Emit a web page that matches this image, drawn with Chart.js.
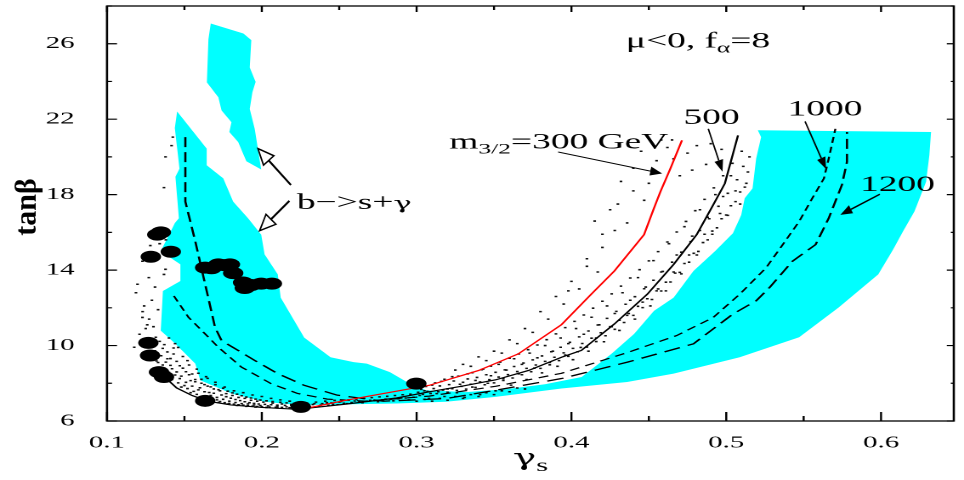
<!DOCTYPE html>
<html>
<head>
<meta charset="utf-8">
<script src="https://cdn.jsdelivr.net/npm/chart.js@4.4.1/dist/chart.umd.min.js"></script>
<style>
html,body{margin:0;padding:0;background:#fff;overflow:hidden;}
#c{display:block;width:964px;height:480px;}
</style>
</head>
<body>
<canvas id="c" width="567" height="480" style="width:964px;height:480px;"></canvas>
<script>
// ---------------- data (gamma_s , tan beta) ----------------
const xMajorTicks = [0.1, 0.2, 0.3, 0.4, 0.5, 0.6];
const yMajorTicks = [6, 10, 14, 18, 22, 26];

// b -> s gamma allowed region (cyan), main band
const cyanMainBand = [
 [0.1453,22.41],[0.1644,20.44],[0.1644,19.56],[0.1751,18.86],[0.1815,17.63],[0.1911,16.75],[0.1996,15.88],
 [0.2018,14.83],[0.2103,13.77],[0.2122,12.54],[0.2274,10.42],[0.2444,9.38],[0.2593,9.12],[0.2678,9.04],
 [0.2827,8.59],[0.2955,7.98],[0.3062,7.63],[0.3318,7.53],[0.3574,7.68],[0.3829,7.95],[0.4066,8.33],
 [0.4258,9.56],[0.4405,10.62],[0.4533,11.84],[0.4660,12.54],[0.4788,13.95],[0.4927,15.0],[0.5043,15.95],
 [0.5097,16.93],[0.5119,17.81],[0.5170,18.33],[0.5193,19.91],[0.5225,21.05],[0.5204,21.41],[0.6323,21.32],
 [0.6312,20.09],[0.6291,18.68],[0.6216,17.11],[0.6142,16.05],[0.6078,15.09],[0.5982,13.77],[0.5726,12.02],
 [0.5471,10.44],[0.5087,9.38],[0.4660,8.51],[0.4360,8.07],[0.3936,7.72],[0.3510,7.28],[0.3190,7.02],
 [0.2870,6.93],[0.2231,6.84],[0.2018,7.02],[0.1804,7.46],[0.1602,8.16],[0.1570,9.04],[0.1442,10.09],
 [0.1347,10.79],[0.1361,12.89],[0.1474,13.42],[0.1474,14.30],[0.1347,15.0],[0.1438,16.49],[0.1464,16.75],
 [0.1442,18.95],[0.1468,19.38],[0.1438,21.53]
];
// b -> s gamma allowed region (cyan), upper island
const cyanUpperBand = [
 [0.167,27.07],[0.1881,26.54],[0.1932,26.19],[0.1922,24.74],[0.196,23.98],[0.1939,23.42],[0.1922,22.54],
 [0.1954,21.49],[0.1996,19.33],[0.190,19.77],[0.1847,20.79],[0.179,21.32],[0.1804,21.84],[0.174,22.46],
 [0.1719,23.16],[0.1645,23.95],[0.1655,26.23]
];
// scan points (small dots)
const scanPoints = [
 [0.1425,21.05],[0.1417,20.6],[0.1378,20.0],[0.1368,18.37],
 [0.1229,14.47],[0.1197,13.25],[0.1187,12.8],[0.1368,13.77],[0.1378,14.04],[0.1229,11.49],[0.1272,11.4],
 [0.1176,9.91],[0.1315,10.44],[0.124,12.1],[0.129,12.4],[0.133,11.9],[0.121,10.6],[0.128,15.3],[0.134,15.4],[0.138,15.6],
 [0.126,11.1],[0.123,11.8],[0.127,13.6],[0.131,13.1],[0.125,10.9],[0.13,11.0],
 [0.136,9.85],[0.139,9.3],[0.141,8.95],[0.143,9.55],[0.145,8.6],[0.147,8.25],[0.149,8.8],[0.151,8.05],[0.153,8.45],[0.155,7.85],
 [0.157,8.2],[0.159,7.65],[0.161,8.0],[0.163,7.55],[0.165,7.85],[0.167,7.35],[0.169,7.7],[0.171,7.25],[0.173,7.6],[0.175,7.15],
 [0.177,7.45],[0.179,7.05],[0.181,7.35],[0.183,6.98],[0.185,7.25],[0.187,6.92],[0.189,7.2],[0.191,6.9],[0.193,7.1],[0.195,6.85],
 [0.197,7.05],[0.199,6.82],[0.201,7.0],[0.204,6.8],[0.207,6.95],[0.21,6.78],[0.213,6.9],[0.216,6.75],[0.219,6.88],[0.222,6.76],
 [0.226,6.86],[0.23,6.8],[0.234,6.92],[0.238,6.84],[0.242,6.97],[0.246,6.88],[0.25,7.0],[0.255,6.92],[0.26,7.06],[0.265,6.97],
 [0.27,7.1],[0.275,7.02],[0.28,7.16],[0.285,7.07],[0.29,7.22],[0.295,7.12],
 [0.146,9.9],[0.152,9.2],[0.158,8.75],[0.164,8.35],[0.17,8.05],[0.176,7.8],[0.182,7.6],[0.188,7.5],[0.194,7.38],[0.2,7.3],
 [0.206,7.2],[0.212,7.12],[0.218,7.05],[0.224,7.0],[0.14,10.4],[0.144,10.1],[0.133,9.1],[0.137,8.7],[0.142,8.2],[0.148,7.8],
 [0.154,7.5],[0.16,7.25],[0.166,7.1],[0.172,6.98],[0.178,6.9],[0.184,6.82],[0.19,6.78],[0.196,6.74],[0.203,6.72],[0.21,6.7],
 [0.131,9.72],[0.132,9.18],[0.133,8.78],[0.134,10.22],[0.135,9.46],[0.136,8.97],[0.137,10.05],[0.138,9.12],[0.139,9.66],[0.140,8.58],
 [0.141,9.31],[0.142,8.77],[0.143,9.87],[0.144,8.44],[0.145,9.16],[0.146,8.02],[0.147,8.93],[0.148,8.38],[0.149,9.42],[0.150,7.88],
 [0.151,8.61],[0.152,7.72],[0.153,8.97],[0.154,8.14],[0.155,8.49],[0.156,7.57],[0.157,8.08],[0.158,7.41],[0.159,8.53],[0.160,7.76],
 [0.161,8.21],[0.162,7.32],[0.163,7.93],[0.164,7.16],[0.165,8.26],[0.166,7.51],[0.167,7.81],[0.168,7.06],[0.169,7.47],[0.170,7.92],
 [0.171,7.12],[0.172,7.66],[0.173,7.03],[0.174,7.38],[0.175,7.74],[0.176,6.97],[0.177,7.29],[0.178,7.58],[0.179,6.93],[0.180,7.21],
 [0.181,7.49],[0.182,6.89],[0.183,7.14],[0.184,7.42],[0.185,6.86],[0.186,7.08],[0.187,7.34],[0.188,6.84],[0.189,7.02],[0.190,7.27],
 [0.191,6.81],[0.192,6.97],[0.193,7.22],[0.194,6.79],[0.195,6.93],[0.196,7.16],[0.197,6.77],[0.198,6.9],[0.199,7.11],[0.200,6.76],
 [0.202,6.88],[0.203,7.07],[0.205,6.74],[0.206,6.86],[0.207,7.03],[0.209,6.73],[0.210,6.84],[0.212,6.99],[0.213,6.72],[0.215,6.83],
 [0.216,6.96],[0.218,6.71],[0.219,6.82],[0.221,6.94],[0.223,6.72],[0.225,6.9],[0.227,6.78],[0.229,6.95],[0.231,6.74],[0.233,6.87],
 [0.235,7.0],[0.237,6.79],[0.239,6.92],[0.241,7.05],[0.243,6.83],[0.245,6.96],[0.247,7.09],[0.249,6.86],[0.251,7.03],[0.253,6.94],
 [0.256,7.12],[0.258,6.98],[0.261,7.16],[0.263,7.02],[0.266,7.2],[0.268,7.05],[0.271,7.24],[0.273,7.08],[0.276,7.28],[0.278,7.12],
 [0.281,7.31],[0.283,7.15],[0.286,7.35],[0.288,7.18],[0.291,7.39],[0.293,7.22],[0.296,7.42],[0.298,7.26],
 [0.302,7.35],[0.305,7.6],[0.308,7.2],[0.31,7.9],[0.313,7.45],[0.316,8.1],[0.318,7.3],[0.32,7.7],[0.323,8.35],[0.326,7.5],
 [0.328,7.95],[0.331,7.25],[0.333,8.5],[0.336,7.8],[0.338,8.15],[0.341,7.4],[0.343,8.75],[0.346,8.0],[0.348,8.4],[0.351,7.6],
 [0.353,9.0],[0.356,8.25],[0.358,8.7],[0.361,7.9],[0.363,9.3],[0.366,8.5],[0.368,9.0],[0.371,8.2],[0.373,9.6],[0.376,8.8],
 [0.378,9.35],[0.381,8.55],[0.383,10.0],[0.386,9.1],[0.388,9.7],[0.391,8.9],[0.393,10.4],[0.396,9.5],[0.398,10.1],[0.401,9.25],
 [0.403,10.9],[0.406,9.9],[0.408,10.6],[0.411,9.7],[0.413,11.5],[0.416,10.4],[0.418,11.1],[0.421,10.2],[0.423,12.1],[0.426,11.0],
 [0.428,11.7],[0.431,10.8],[0.433,12.8],[0.436,11.6],[0.438,12.4],[0.441,11.4],[0.443,13.6],[0.446,12.3],[0.448,13.1],[0.451,12.1],
 [0.453,14.5],[0.456,13.0],[0.458,13.9],[0.461,12.9],[0.463,15.4],[0.466,13.9],[0.468,14.8],[0.471,13.8],[0.473,16.3],[0.476,14.8],
 [0.478,15.8],[0.481,14.8],[0.483,17.2],[0.486,15.9],[0.488,16.8],[0.491,15.9],[0.493,18.0],[0.496,17.0],[0.498,17.9],[0.501,16.9],
 [0.503,19.0],[0.506,18.2],[0.509,17.5],[0.511,19.5],[0.513,18.6],
 [0.405,13.0],[0.41,14.2],[0.415,16.6],[0.42,15.2],[0.425,17.2],[0.432,18.7],[0.436,16.5],[0.44,19.4],[0.445,20.3],[0.45,18.6],
 [0.455,19.8],[0.462,20.5],[0.47,19.0],[0.475,20.2],[0.481,20.6],[0.487,19.6],[0.395,12.2],[0.385,11.4],[0.375,10.7],[0.365,10.1],
 [0.355,9.6],[0.345,9.2],[0.335,8.9],[0.325,8.7],
 [0.30,7.05],[0.305,7.15],[0.31,7.05],[0.315,7.2],[0.32,7.1],[0.325,7.3],[0.33,7.2],[0.335,7.4],[0.34,7.3],[0.345,7.5],
 [0.35,7.4],[0.355,7.6],[0.36,7.55],[0.365,7.75],[0.37,7.7],
 [0.301,7.52],[0.303,7.68],[0.304,7.41],[0.306,7.83],[0.307,7.57],[0.309,7.46],[0.311,7.72],[0.312,8.02],[0.314,7.55],[0.315,7.86],
 [0.317,7.64],[0.318,8.21],[0.320,7.52],[0.321,7.93],[0.323,7.71],[0.324,8.12],[0.326,7.62],[0.327,8.38],[0.329,7.84],[0.330,8.05],
 [0.332,7.69],[0.333,8.23],[0.335,7.95],[0.336,8.56],[0.338,7.78],[0.339,8.31],[0.341,8.07],[0.342,8.72],[0.344,7.92],[0.345,8.45],
 [0.347,8.19],[0.348,8.91],[0.350,8.02],[0.351,8.58],[0.353,8.33],[0.354,9.12],[0.356,8.15],[0.357,8.71],[0.359,8.46],[0.360,9.33],
 [0.362,8.28],[0.363,8.89],[0.365,8.62],[0.366,9.55],[0.368,8.45],[0.369,9.07],[0.371,8.79],[0.372,9.78],[0.374,8.61],[0.375,9.24],
 [0.377,8.97],[0.378,10.03],[0.380,8.79],[0.381,9.45],[0.383,9.16],[0.384,10.31],[0.386,8.98],[0.387,9.67],[0.389,9.38],[0.390,10.62],
 [0.392,9.2],[0.393,9.91],[0.395,9.61],[0.396,10.95],[0.398,9.43],[0.399,10.17],[0.401,9.85],[0.402,11.28],[0.404,9.67],[0.405,10.46],
 [0.407,10.11],[0.408,11.62],[0.410,9.92],[0.411,10.77],[0.413,10.39],[0.414,11.98],[0.416,10.21],[0.417,11.09],[0.419,10.68],[0.420,12.35],
 [0.422,10.52],[0.423,11.44],[0.425,11.0],[0.426,12.74],[0.428,10.86],[0.429,11.81],[0.431,11.34],[0.432,13.15],[0.434,11.22],[0.435,12.19],
 [0.437,11.7],[0.438,13.58],[0.440,11.6],[0.441,12.59],[0.443,12.08],[0.444,14.02],[0.446,12.01],[0.447,13.01],[0.449,12.48],[0.450,14.49],
 [0.452,12.44],[0.453,13.46],[0.455,12.9],[0.456,14.98],[0.458,12.89],[0.459,13.93],[0.461,13.36],[0.462,15.49],[0.464,13.37],[0.465,14.42],
 [0.467,13.84],[0.468,16.02],[0.470,13.88],[0.471,14.95],[0.473,14.35],[0.474,16.58],[0.476,14.42],[0.477,15.51],[0.479,14.89],[0.480,17.15],
 [0.482,14.99],[0.483,16.1],[0.485,15.46],[0.486,17.75],[0.488,15.6],[0.489,16.72],[0.491,16.07],[0.492,18.36],[0.494,16.24],[0.495,17.38],
 [0.497,16.72],[0.498,19.0],[0.500,16.92],[0.501,18.07],[0.503,17.41],[0.504,19.66],[0.506,17.63],[0.507,18.79],[0.509,18.14],[0.510,20.3],
 [0.512,18.4],[0.514,19.2],[0.515,20.0],
 [0.37,10.9],[0.38,11.8],[0.39,12.6],[0.40,13.4],[0.41,14.6],[0.42,15.9],[0.43,17.5],[0.44,18.2],[0.452,19.3],[0.458,20.9],
 [0.466,19.9],[0.36,10.3],[0.35,9.7],[0.34,9.4],[0.33,9.0],[0.398,12.9],[0.417,13.9],[0.428,16.1],[0.447,17.7],[0.465,20.9],
 [0.478,19.3],[0.49,20.7],[0.497,20.4]
];
// m_3/2 contours
const curve300 = [
 [0.2231,6.58],[0.2550,7.11],[0.2870,7.58],[0.3081,7.89],[0.3401,8.68],[0.3657,9.56],[0.3936,11.11],
 [0.4128,12.72],[0.4277,13.95],[0.4469,15.88],[0.4533,17.28],[0.4575,18.16],[0.4639,19.38],[0.4714,20.88]
];
const curve500 = [
 [0.137,8.35],[0.145,7.75],[0.155,7.35],[0.165,7.05],[0.18,6.85],[0.2,6.72],[0.2231,6.62],[0.255,6.9],
 [0.287,7.22],[0.3081,7.55],[0.3297,7.85],[0.351,8.18],[0.3723,8.68],[0.3936,9.38],[0.4064,9.74],
 [0.4277,11.14],[0.4490,12.72],[0.4660,14.30],[0.4809,15.88],[0.4916,17.46],[0.4991,18.59],[0.5076,21.14]
];
const curve1000 = [
 [0.1432,12.63],[0.1527,11.49],[0.1613,10.79],[0.1719,9.91],[0.1868,8.86],[0.2060,7.98],[0.2231,7.46],
 [0.2423,7.16],[0.2678,7.05],[0.3081,7.32],[0.3510,7.84],[0.3936,8.53],[0.4362,9.63],[0.4680,10.53],
 [0.4916,11.49],[0.5087,12.72],[0.5257,14.12],[0.5365,15.35],[0.5471,16.58],[0.5556,17.81],[0.5631,18.86],
 [0.5662,19.91],[0.5705,21.49]
];
const curve1200 = [
 [0.1506,21.05],[0.1506,17.63],[0.1570,15.53],[0.1644,12.89],[0.1698,10.96],[0.1740,10.26],[0.1847,9.74],
 [0.1954,9.21],[0.2103,8.51],[0.2274,7.89],[0.2487,7.37],[0.2785,7.05],[0.3190,7.19],[0.3510,7.63],
 [0.3936,8.25],[0.4362,9.12],[0.4788,10.09],[0.5043,11.67],[0.5193,12.37],[0.5279,13.07],[0.5428,14.47],
 [0.5577,15.35],[0.5662,16.75],[0.5747,18.51],[0.5780,19.74],[0.5780,21.32]
];
// special points (big black dots)
const specialPoints = [
 [0.1325,15.88],[0.1348,16.0],[0.1283,14.71],[0.1412,14.97],[0.1634,14.13],[0.1675,14.1],[0.1719,14.30],
 [0.1758,14.26],[0.1794,14.30],[0.1815,13.84],[0.1879,13.34],[0.1890,13.05],[0.1932,13.21],[0.1996,13.28],
 [0.2065,13.28],[0.1267,10.14],[0.1278,9.47],[0.1336,8.59],[0.1368,8.33],[0.1634,7.07],[0.2252,6.75],[0.2998,7.98]
];

// ---------------- annotations (data coordinates) ----------------
const GREEK = '"DejaVu Serif",serif';
const notes = [
 {at:[0.4352,25.79], parts:[['\u03bc<0, f',22,0],['\u03b1',15,5],['=8',22,0]]},
 {at:[0.3211,20.44], parts:[['m',22,0],['3/2',15,5],['=300 GeV',22,0]]},
 {at:[0.4724,21.75], parts:[['500',22,0]]},
 {at:[0.5396,22.19], parts:[['1000',22,0]]},
 {at:[0.5865,18.19], parts:[['1200',22,0]]},
 {at:[0.2226,17.23], parts:[['b\u2212>s+',22,0],['\u03b3',18,0,GREEK]]}
];
const arrows = [
 {from:[0.2188,18.51], to:[0.1975,20.44], open:true, lw:2},
 {from:[0.2178,17.67], to:[0.1986,16.09], open:true, lw:2},
 {from:[0.3914,20.26], to:[0.4586,19.12], open:false, lw:1},
 {from:[0.4884,21.49], to:[0.4976,19.21], open:false, lw:1.5},
 {from:[0.5509,21.88], to:[0.5645,19.35], open:false, lw:1.5},
 {from:[0.5992,18.02], to:[0.5737,16.93], open:false, lw:1.5}
];

// ---------------- rendering ----------------
const S = 964 / 567;           // horizontal stretch of the figure
const FONT = '"Liberation Serif","Times New Roman",serif';
const xy = arr => arr.map(([x, y]) => ({x, y}));
const isMajorX = v => xMajorTicks.some(t => Math.abs(t - v) < 1e-6);
const isMajorY = v => yMajorTicks.some(t => Math.abs(t - v) < 1e-6);

function partWidth(ctx, parts) {
  let w = 0;
  for (const [t, size, dy, fam] of parts) { ctx.font = size + 'px ' + (fam || FONT); w += ctx.measureText(t).width; }
  return w;
}
function rich(ctx, X, Y, parts) {
  let cx = X;
  for (const [t, size, dy, fam] of parts) {
    ctx.font = size + 'px ' + (fam || FONT);
    ctx.fillText(t, cx, Y + dy);
    cx += ctx.measureText(t).width;
  }
}
function drawArrow(ctx, p0, p1, open, lw) {
  const x0 = p0[0] * S, y0 = p0[1], x1 = p1[0] * S, y1 = p1[1];
  const ang = Math.atan2(y1 - y0, x1 - x0);
  const L = open ? 16 : 12, W = open ? 7 : 4.5;
  const bx = x1 - L * Math.cos(ang), by = y1 - L * Math.sin(ang);
  const nx = -Math.sin(ang), ny = Math.cos(ang);
  ctx.save();
  ctx.scale(1 / S, 1);
  ctx.lineWidth = lw;
  ctx.strokeStyle = '#000';
  ctx.fillStyle = '#000';
  ctx.beginPath(); ctx.moveTo(x0, y0); ctx.lineTo(bx, by); ctx.stroke();
  ctx.beginPath();
  ctx.moveTo(x1, y1);
  ctx.lineTo(bx + W * nx, by + W * ny);
  ctx.lineTo(bx - W * nx, by - W * ny);
  ctx.closePath();
  if (open) { ctx.fillStyle = '#fff'; ctx.fill(); ctx.lineWidth = 1.5; ctx.stroke(); }
  else ctx.fill();
  ctx.restore();
}

const framePlugin = {
  id: 'frameTicks',
  afterDatasetsDraw(chart) {
    const {ctx, chartArea: a} = chart;
    const {x, y} = chart.scales;
    ctx.save();
    ctx.strokeStyle = '#000';
    ctx.lineWidth = 1.3;
    ctx.strokeRect(a.left, a.top, a.right - a.left, a.bottom - a.top);
    ctx.lineWidth = 1.2;
    ctx.beginPath();
    x.ticks.forEach(t => {
      const px = x.getPixelForValue(t.value);
      const m = isMajorX(t.value);
      ctx.moveTo(px, a.bottom); ctx.lineTo(px, a.bottom - (m ? 9 : 5));
      ctx.moveTo(px, a.top); ctx.lineTo(px, a.top + (m ? 6 : 4));
    });
    y.ticks.forEach(t => {
      const py = y.getPixelForValue(t.value);
      const m = isMajorY(t.value);
      ctx.moveTo(a.left, py); ctx.lineTo(a.left + (m ? 10 : 5) / S, py);
      ctx.moveTo(a.right, py); ctx.lineTo(a.right - (m ? 7 : 3) / S, py);
    });
    ctx.stroke();
    ctx.restore();
  }
};

const notesPlugin = {
  id: 'notes',
  afterDraw(chart) {
    const {ctx, chartArea: a} = chart;
    const {x, y} = chart.scales;
    const P = d => [x.getPixelForValue(d[0]), y.getPixelForValue(d[1])];
    ctx.save();
    ctx.fillStyle = '#000';
    ctx.textAlign = 'left';
    ctx.textBaseline = 'alphabetic';
    notes.forEach(n => { const [X, Y] = P(n.at); rich(ctx, X, Y, n.parts); });
    arrows.forEach(ar => drawArrow(ctx, P(ar.from), P(ar.to), ar.open, ar.lw));
    // x axis title: gamma_s
    const xt = [['\u03b3', 23, 0, GREEK], ['s', 18, 6]];
    const cx = (a.left + a.right) / 2 - partWidth(ctx, xt) / 2;
    rich(ctx, cx, 465, xt);
    // y axis title: tan beta
    ctx.save();
    ctx.translate(28 / S, 207);
    ctx.scale(1 / S, 1);
    ctx.rotate(-Math.PI / 2);
    ctx.font = 'bold 30px ' + FONT;
    ctx.textAlign = 'center';
    ctx.textBaseline = 'middle';
    ctx.fillText('tan\u03b2', 0, 0);
    ctx.restore();
    ctx.restore();
  }
};

const lineBase = {showLine: true, pointRadius: 0, tension: 0, fill: false, borderCapStyle: 'butt'};

new Chart(document.getElementById('c'), {
  type: 'line',
  data: {
    datasets: [
      {label: 'b->s gamma', data: xy(cyanMainBand), ...lineBase, fill: 'shape',
       backgroundColor: '#00ffff', borderColor: 'transparent', borderWidth: 0, order: 10},
      {label: 'b->s gamma (upper)', data: xy(cyanUpperBand), ...lineBase, fill: 'shape',
       backgroundColor: '#00ffff', borderColor: 'transparent', borderWidth: 0, order: 10},
      {label: 'scan', data: xy(scanPoints), showLine: false, pointStyle: 'rect', pointRadius: 1.1,
       backgroundColor: '#111', borderWidth: 0, order: 8},
      {label: 'm3/2=1200', data: xy(curve1200), ...lineBase, borderColor: '#000', borderWidth: 1.3,
       borderDash: [10, 5], order: 5},
      {label: 'm3/2=1000', data: xy(curve1000), ...lineBase, borderColor: '#000', borderWidth: 1.2,
       borderDash: [6, 4], order: 5},
      {label: 'm3/2=500', data: xy(curve500), ...lineBase, borderColor: '#000', borderWidth: 1.2, order: 4},
      {label: 'm3/2=300', data: xy(curve300), ...lineBase, borderColor: '#ff0000', borderWidth: 1.2, order: 3},
      {label: 'special', data: xy(specialPoints), showLine: false, pointStyle: 'circle', pointRadius: 6,
       backgroundColor: '#000', borderWidth: 0, order: 1}
    ]
  },
  options: {
    responsive: false,
    devicePixelRatio: 2,
    animation: false,
    events: [],
    layout: {padding: {top: 2, right: 0.6, left: 0, bottom: 0}},
    plugins: {legend: {display: false}, tooltip: {enabled: false}},
    scales: {
      x: {
        type: 'linear', min: 0.1, max: 0.647,
        grid: {display: false}, border: {display: false},
        ticks: {stepSize: 0.05, includeBounds: false, autoSkip: false, maxRotation: 0, minRotation: 0,
          padding: 4, color: '#000', font: {family: FONT, size: 17},
          callback: v => isMajorX(v) ? Number(v).toFixed(1) : ''},
        afterFit: s => { s.height = 59; s.paddingLeft = 0; s.paddingRight = 0; }
      },
      y: {
        type: 'linear', min: 6, max: 28,
        grid: {display: false}, border: {display: false},
        ticks: {stepSize: 2, includeBounds: false, autoSkip: false, padding: 11, color: '#000',
          font: {family: FONT, size: 17},
          callback: v => isMajorY(v) ? String(v) : ''},
        afterFit: s => { s.width = 107 / S; s.paddingTop = 0; s.paddingBottom = 0; }
      }
    }
  },
  plugins: [framePlugin, notesPlugin]
});
</script>
</body>
</html>
